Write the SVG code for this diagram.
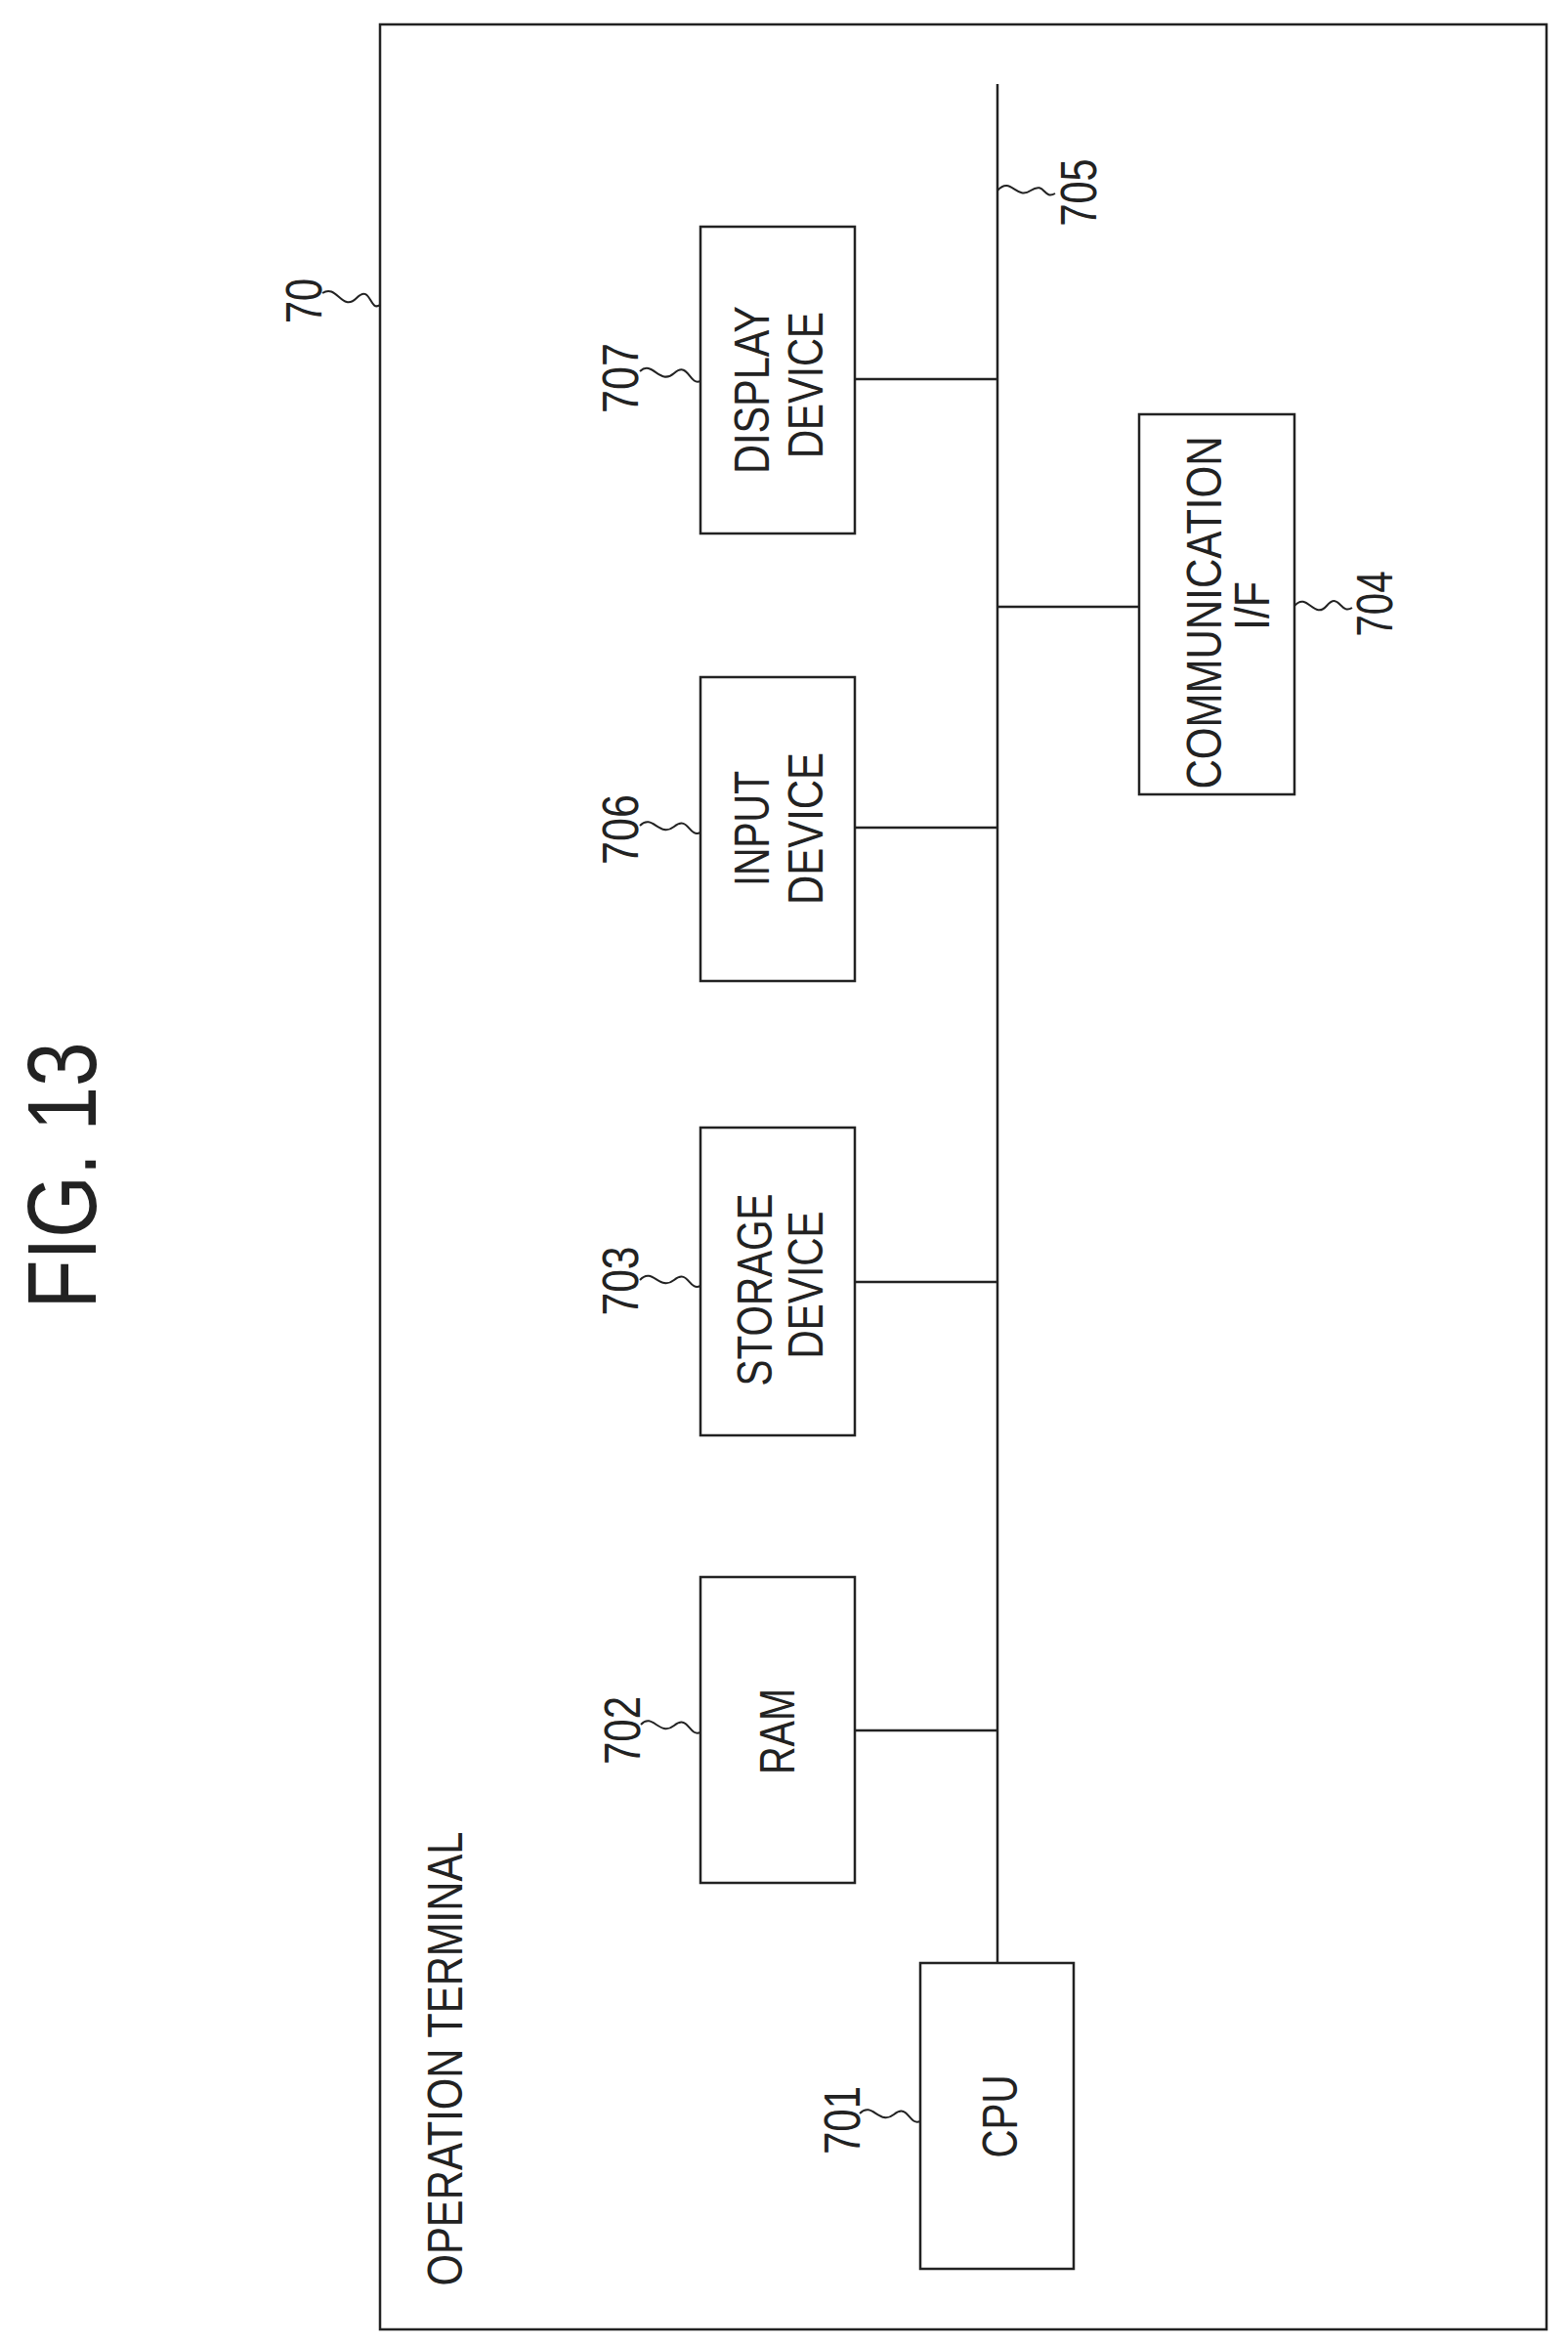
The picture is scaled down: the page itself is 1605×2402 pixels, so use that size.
<svg xmlns="http://www.w3.org/2000/svg" width="1605" height="2402" viewBox="0 0 1605 2402">
<style>
.b{fill:#fff;stroke:#222;stroke-width:2.5}
.l{fill:none;stroke:#222;stroke-width:2.5}
.s{fill:none;stroke:#222;stroke-width:2}
text{font-family:"Liberation Sans",Arial,sans-serif;fill:#222;text-anchor:middle}
.t{font-size:50px}
.n{font-size:52px}
</style>
<rect width="1605" height="2402" fill="#fff"/>
<g id="frame70">
<rect class="b" x="389" y="25" width="1194" height="2359"/>
<text class="t" transform="translate(473,2107) rotate(-90)" textLength="465" lengthAdjust="spacingAndGlyphs">OPERATION TERMINAL</text>
<text class="n" transform="translate(329,308) rotate(-90)" textLength="46" lengthAdjust="spacingAndGlyphs">70</text>
<path class="s" d="M330,300 C345,290 350,320 365,305 S378,320 389,312"/>
</g>
<g id="title"><text style="font-size:100px" transform="translate(98,1203) rotate(-90)" textLength="273" lengthAdjust="spacingAndGlyphs">FIG. 13</text></g>
<g id="connectors">
<line class="l" x1="1021" y1="86" x2="1021" y2="2009"/>
<line class="l" x1="875" y1="388" x2="1021" y2="388"/>
<line class="l" x1="1021" y1="621" x2="1166" y2="621"/>
<line class="l" x1="875" y1="847" x2="1021" y2="847"/>
<line class="l" x1="875" y1="1312" x2="1021" y2="1312"/>
<line class="l" x1="875" y1="1771" x2="1021" y2="1771"/>
<text class="n" transform="translate(1122,197) rotate(-90)" textLength="69" lengthAdjust="spacingAndGlyphs">705</text>
<path class="s" d="M1021,195 C1035,180 1040,205 1055,195 S1068,205 1080,198"/>
</g>
<g id="n707">
<rect class="b" x="717" y="232" width="158" height="314"/>
<text class="t" transform="translate(787,399) rotate(-90)" textLength="172" lengthAdjust="spacingAndGlyphs">DISPLAY</text>
<text class="t" transform="translate(842,394) rotate(-90)" textLength="150" lengthAdjust="spacingAndGlyphs">DEVICE</text>
<text class="n" transform="translate(653,387) rotate(-90)" textLength="72" lengthAdjust="spacingAndGlyphs">707</text>
<path class="s" d="M655,380 C668,368 675,395 690,382 S705,395 717,390"/>
</g>
<g id="n704">
<rect class="b" x="1166" y="424" width="159" height="389"/>
<text class="t" transform="translate(1250,627) rotate(-90)" textLength="361" lengthAdjust="spacingAndGlyphs">COMMUNICATION</text>
<text class="t" transform="translate(1299,620) rotate(-90)" textLength="50" lengthAdjust="spacingAndGlyphs">I/F</text>
<text class="n" transform="translate(1425,618) rotate(-90)" textLength="67" lengthAdjust="spacingAndGlyphs">704</text>
<path class="s" d="M1325,620 C1338,605 1345,635 1358,620 S1372,630 1384,622"/>
</g>
<g id="n706">
<rect class="b" x="717" y="693" width="158" height="311"/>
<text class="t" transform="translate(787,848) rotate(-90)" textLength="118" lengthAdjust="spacingAndGlyphs">INPUT</text>
<text class="t" transform="translate(842,848) rotate(-90)" textLength="156" lengthAdjust="spacingAndGlyphs">DEVICE</text>
<text class="n" transform="translate(653,849) rotate(-90)" textLength="72" lengthAdjust="spacingAndGlyphs">706</text>
<path class="s" d="M655,845 C668,832 675,858 690,846 S705,858 717,852"/>
</g>
<g id="n703">
<rect class="b" x="717" y="1154" width="158" height="315"/>
<text class="t" transform="translate(790,1320) rotate(-90)" textLength="197" lengthAdjust="spacingAndGlyphs">STORAGE</text>
<text class="t" transform="translate(842,1315) rotate(-90)" textLength="151" lengthAdjust="spacingAndGlyphs">DEVICE</text>
<text class="n" transform="translate(653,1311) rotate(-90)" textLength="71" lengthAdjust="spacingAndGlyphs">703</text>
<path class="s" d="M655,1310 C668,1296 675,1322 690,1310 S705,1322 717,1316"/>
</g>
<g id="n702">
<rect class="b" x="717" y="1614" width="158" height="313"/>
<text class="t" transform="translate(813,1772) rotate(-90)" textLength="88" lengthAdjust="spacingAndGlyphs">RAM</text>
<text class="n" transform="translate(655,1771) rotate(-90)" textLength="70" lengthAdjust="spacingAndGlyphs">702</text>
<path class="s" d="M656,1765 C668,1752 675,1778 690,1766 S705,1778 717,1773"/>
</g>
<g id="n701">
<rect class="b" x="942" y="2009" width="157" height="313"/>
<text class="t" transform="translate(1041,2166) rotate(-90)" textLength="85" lengthAdjust="spacingAndGlyphs">CPU</text>
<text class="n" transform="translate(880,2170) rotate(-90)" textLength="70" lengthAdjust="spacingAndGlyphs">701</text>
<path class="s" d="M880,2163 C893,2150 900,2176 915,2164 S930,2176 942,2171"/>
</g>
</svg>
